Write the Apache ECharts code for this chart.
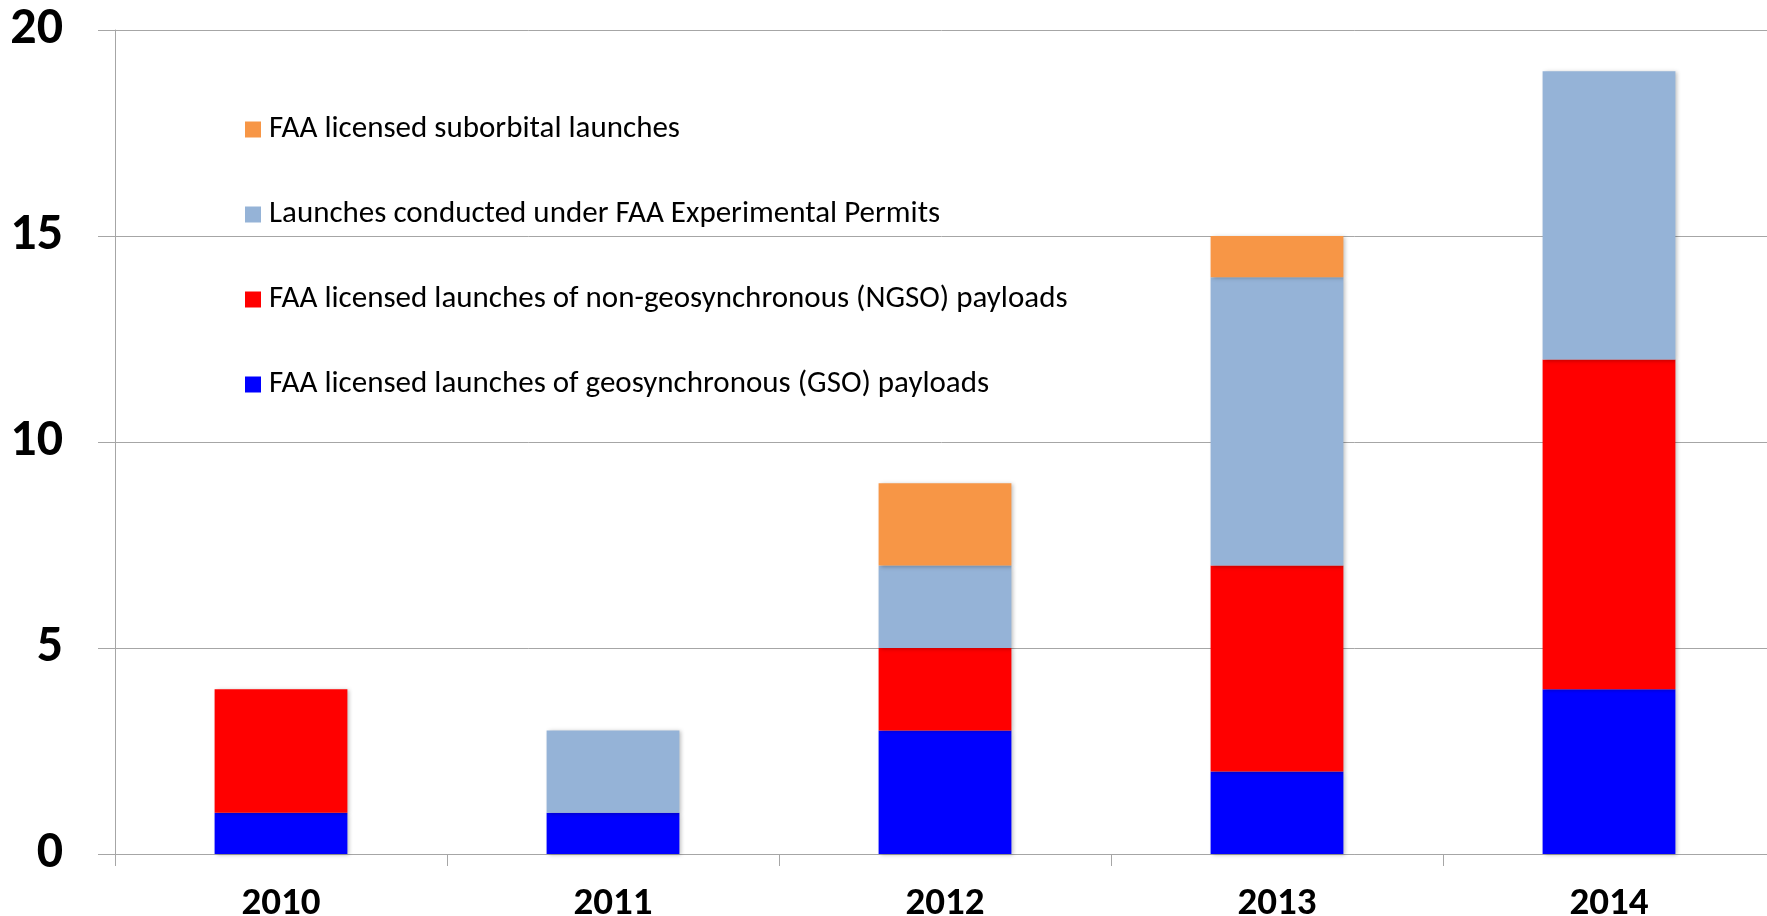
<!DOCTYPE html>
<html><head><meta charset="utf-8">
<script src="https://cdn.jsdelivr.net/npm/echarts@6/dist/echarts.min.js"></script>
<style>html,body{margin:0;padding:0;background:#fff}#c{width:1767px;height:916px}</style>
</head><body><div id="c"></div>
<script>
const years = ['2010','2011','2012','2013','2014'];
const gso = [1,1,3,2,4];
const ngso = [3,0,2,5,8];
const experimental = [0,2,2,7,7];
const suborbital = [0,0,2,1,0];
const yTicks = [0,5,10,15,20];
const names = {
  sub:'FAA licensed suborbital launches',
  exp:'Launches conducted under FAA Experimental Permits',
  ngso:'FAA licensed launches of non-geosynchronous (NGSO) payloads',
  gso:'FAA licensed launches of geosynchronous (GSO) payloads'
};
const colors = {gso:'#0000FF', ngso:'#FF0000', exp:'#95B3D7', sub:'#F79646'};
const font = "Carlito, 'Open Sans', sans-serif";
const legendTops = [129,214,299,384];
const legendOrder = ['sub','exp','ngso','gso'];
const chart = echarts.init(document.getElementById('c'));
const mk = (key, data) => ({
  name: names[key], type:'bar', stack:'t', data: data, barWidth:'40%',
  itemStyle:{color:colors[key], shadowBlur:4, shadowColor:'rgba(0,0,0,0.25)', shadowOffsetX:2, shadowOffsetY:1},
  emphasis:{disabled:true}
});
chart.setOption({
  animation:false,
  grid:{left:115, top:30, bottom:62, right:-8, containLabel:false, outerBoundsMode:'none'},
  legend: legendOrder.map((k,i)=>({
    data:[names[k]], left:245, top:legendTops[i]-15, orient:'vertical', padding:0,
    itemWidth:16, itemHeight:16, itemGap:0, icon:'rect',
    textStyle:{fontFamily:font, fontSize:31, lineHeight:30, color:'#000', padding:[0,0,0,3]}
  })),
  xAxis:{type:'category', data:years,
    axisLine:{lineStyle:{color:'#a6a6a6', width:1}},
    axisTick:{show:true, length:12, lineStyle:{color:'#a6a6a6'}},
    axisLabel:{fontFamily:font, fontSize:39, fontWeight:'bold', color:'#000', margin:31}},
  yAxis:{type:'value', min:yTicks[0], max:yTicks[yTicks.length-1], interval:5,
    axisLine:{show:true, lineStyle:{color:'#a6a6a6', width:1}},
    axisTick:{show:true, length:17, lineStyle:{color:'#a6a6a6'}},
    splitLine:{lineStyle:{color:'#a6a6a6', width:1}},
    axisLabel:{fontFamily:font, fontSize:52, fontWeight:'bold', color:'#000', margin:52}},
  series:[mk('gso',gso), mk('ngso',ngso), mk('exp',experimental), mk('sub',suborbital)]
});
</script></body></html>
